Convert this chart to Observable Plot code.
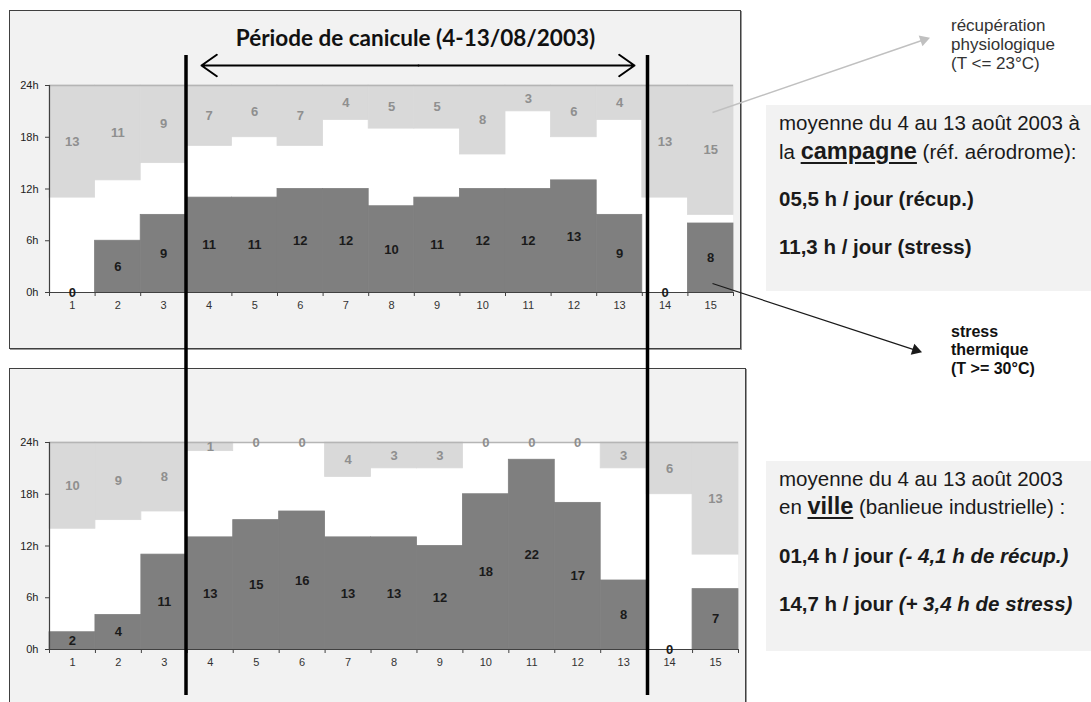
<!DOCTYPE html>
<html><head><meta charset="utf-8">
<script src="https://cdn.jsdelivr.net/npm/d3@7"></script>
<script src="https://cdn.jsdelivr.net/npm/@observablehq/plot@0.6"></script>
<style>
html,body{margin:0;padding:0;background:#fff;}
#page{position:relative;width:1091px;height:702px;overflow:hidden;font-family:"Liberation Sans",Arial,sans-serif;color:#1a1a1a;}
.panel{position:absolute;box-sizing:border-box;background:#f2f2f2;border:1px solid #404040;box-shadow:1px 1px 0 #9a9a9a;}
.box{position:absolute;background:#f2f2f2;}
.line{position:absolute;white-space:nowrap;line-height:1;}
.line u{text-decoration-thickness:2px;text-underline-offset:3px;}
svg.plot-layer{position:absolute;left:0;top:0;}
</style></head>
<body><div id="page"></div>
<script>
// ---- data ----
const days = [1,2,3,4,5,6,7,8,9,10,11,12,13,14,15];
const campagneStress = [0,6,9,11,11,12,12,10,11,12,12,13,9,0,8];
const campagneRecup  = [13,11,9,7,6,7,4,5,5,8,3,6,4,13,15];
const villeStress    = [2,4,11,13,15,16,13,13,12,18,22,17,8,0,7];
const villeRecup     = [10,9,8,1,0,0,4,3,3,0,0,0,3,6,13];
const hourTicks = [0,6,12,18,24];
const hourLabels = ["0h","6h","12h","18h","24h"];
const titleText = "Période de canicule (4-13/08/2003)";

const page = document.getElementById("page");
const W = 1091, H = 702;
const DARK = "#7f7f7f", LIGHT = "#d9d9d9";

function el(tag, cls, css, html){const e=document.createElement(tag);if(cls)e.className=cls;Object.assign(e.style,css);if(html!=null)e.innerHTML=html;page.appendChild(e);return e;}

// panel backgrounds
el("div","panel",{left:"9px",top:"10px",width:"732px",height:"339px"});
el("div","panel",{left:"9px",top:"368px",width:"737px",height:"400px"});
// text boxes
el("div","box",{left:"766px",top:"105px",width:"325px",height:"186px"});
el("div","box",{left:"766px",top:"461px",width:"325px",height:"190px"});

function line(html, x, baseline, size, weight, color){
  const top = baseline - 0.8465*size;
  return el("div","line",{left:x+"px",top:top+"px",fontSize:size+"px",fontWeight:weight||"normal",color:color||"#1a1a1a"},html);
}

function panel(stress, recup, m){
  const data = days.map((d,i)=>({day:d, stress:stress[i], recup:recup[i]}));
  const bounds = days.map(d=>d-0.5).concat([days[days.length-1]+0.5]);
  const x0 = bounds[0], x1 = bounds[bounds.length-1];
  const p = Plot.plot({
    width: W, height: H,
    marginLeft: m.left, marginRight: W-m.right, marginTop: m.top, marginBottom: H-m.bottom,
    x: {domain:[x0,x1], axis:null, label:null},
    y: {domain:[0,24], axis:null, label:null},
    style: {background:"transparent", fontFamily:"Liberation Sans, Arial, sans-serif", overflow:"visible"},
    marks: [
      Plot.rect([0], {x1:x0, x2:x1, y1:0, y2:24, fill:"white"}),
      Plot.rect(data, {x1:d=>d.day-0.5, x2:d=>d.day+0.5, y1:d=>24-d.recup, y2:24, fill:LIGHT, stroke:LIGHT, strokeWidth:0.8}),
      Plot.rect(data, {x1:d=>d.day-0.5, x2:d=>d.day+0.5, y1:0, y2:d=>d.stress, fill:DARK, stroke:DARK, strokeWidth:0.8}),
      Plot.ruleY([24], {x1:x0, x2:x1, stroke:"#b5b5b5", strokeWidth:1.5}),
      Plot.ruleX([x0], {y1:0, y2:24, stroke:"#404040", strokeWidth:1.2}),
      Plot.ruleY([0], {x1:x0, x2:x1, stroke:"#404040", strokeWidth:1.2}),
      Plot.axisY(hourTicks, {anchor:"left", label:null, tickSize:4, tickPadding:7, fontSize:11, tickFormat:(d)=>hourLabels[hourTicks.indexOf(d)], stroke:"#404040", fill:"#222"}),
      Plot.axisX(bounds, {anchor:"bottom", label:null, tickSize:4, tickFormat:()=>"", stroke:"#404040"}),
      Plot.axisX(days, {anchor:"bottom", label:null, tickSize:0, tickPadding:9, fontSize:11, fill:"#333"}),
      Plot.text(data, {x:"day", y:d=>24-d.recup/2, text:d=>String(d.recup), fontSize:13, fontWeight:"bold", fill:"#8f8f8f"}),
      Plot.text(data, {x:"day", y:d=>d.stress/2, text:d=>String(d.stress), fontSize:13, fontWeight:"bold", fill:"#1a1a1a"})
    ]
  });
  p.classList.add("plot-layer");
  page.appendChild(p);
}

panel(campagneStress, campagneRecup, {left:49, right:733, top:85, bottom:292});
panel(villeStress, villeRecup, {left:49, right:738, top:442, bottom:649});

// annotations overlay (page coordinates)
const periodLines = [185.5, 647];
const periodSpan = {y1:55, y2:695};
const doubleArrow = [{x1:418,y1:65,x2:634,y2:65},{x1:418,y1:65,x2:201,y2:65}];
const pointerArrows = [
  {x1:712,y1:112,x2:927,y2:38,color:"#c0c0c0",w:1.5},
  {x1:712,y1:283,x2:919,y2:351,color:"#1a1a1a",w:1.2}
];
const heads = pointerArrows.map(a=>{
  const dx=a.x2-a.x1, dy=a.y2-a.y1, L=Math.hypot(dx,dy);
  return {x:a.x2-dx/L*4, y:a.y2-dy/L*4, rot:Math.atan2(dx,-dy)*180/Math.PI, color:a.color,
          lx:a.x2-dx/L*6, ly:a.y2-dy/L*6, x1:a.x1, y1:a.y1, w:a.w};
});
const ov = Plot.plot({
  width:W, height:H, margin:0,
  x:{type:"identity", axis:null, label:null}, y:{type:"identity", axis:null, label:null},
  style:{background:"transparent", overflow:"visible", fontFamily:"Lato, Liberation Sans, sans-serif"},
  marks:[
    Plot.ruleX(periodLines, {y1:periodSpan.y1, y2:periodSpan.y2, stroke:"black", strokeWidth:3.5}),
    Plot.arrow(doubleArrow, {x1:"x1",y1:"y1",x2:"x2",y2:"y2", stroke:"black", strokeWidth:2, headLength:14, headAngle:70}),
    Plot.link(heads, {x1:"x1",y1:"y1",x2:"lx",y2:"ly", stroke:"color", strokeWidth:"w"}),
    Plot.dot(heads, {x:"x", y:"y", symbol:"triangle2", r:5.5, rotate:"rot", fill:"color", stroke:"none"}),
    Plot.text([titleText], {x:415, y:38, text:d=>d, fontSize:22.5, fontWeight:"bold", fill:"#111", textAnchor:"middle"})
  ]
});
ov.classList.add("plot-layer");
ov.style.pointerEvents="none";
page.appendChild(ov);

// side notes
line("récupération", 951, 31, 17, "normal", "#333");
line("physiologique", 951, 50, 17, "normal", "#333");
line("(T &lt;= 23°C)", 951, 69, 17, "normal", "#333");
line("stress", 951, 338, 16, "bold", "#111");
line("thermique", 951, 356, 16, "bold", "#111");
line("(T &gt;= 30°C)", 951, 375, 16, "bold", "#111");

// summary boxes
line("moyenne du 4 au 13 août 2003 à", 779, 130, 20.5);
line('la <b style="font-size:23.5px"><u>campagne</u></b> (réf. aérodrome):', 779, 157, 20.5);
line("05,5 h / jour (récup.)", 779, 206, 20.5, "bold");
line("11,3 h / jour (stress)", 779, 254, 20.5, "bold");

line("moyenne du 4 au 13 août 2003", 779, 486, 20.5);
line('en <b style="font-size:23.5px"><u>ville</u></b> (banlieue industrielle) :', 779, 512, 20.5);
line("01,4 h / jour <i>(- 4,1 h de récup.)</i>", 779, 563, 20.5, "bold");
line("14,7 h / jour <i>(+ 3,4 h de stress)</i>", 779, 611, 20.5, "bold");
</script></body></html>
